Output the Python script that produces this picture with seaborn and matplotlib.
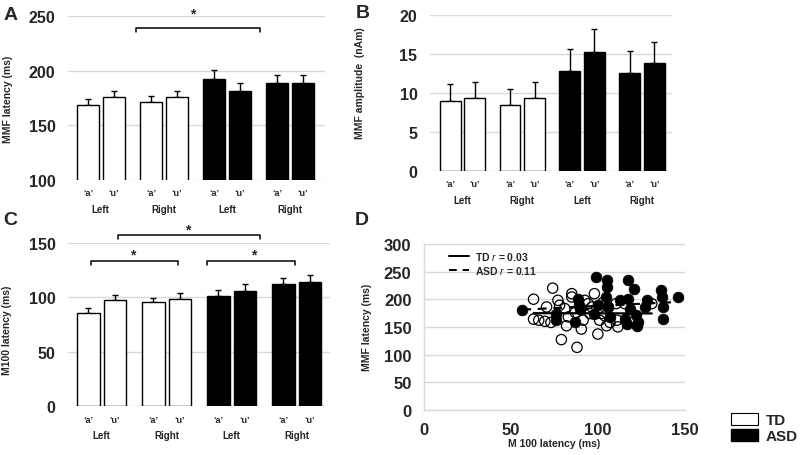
import numpy as np
import pandas as pd
import matplotlib
matplotlib.use("Agg")
import matplotlib.pyplot as plt
from matplotlib.lines import Line2D
from matplotlib.patches import Patch
import seaborn as sns

# bar order: TD-Left a,u / TD-Right a,u / ASD-Left a,u / ASD-Right a,u
conds = ["TD Left", "TD Right", "ASD Left", "ASD Right"]
sides = ["Left", "Right", "Left", "Right"]
vowels = ["‘a’", "‘u’"]

# A: MMF latency (ms)
mmf_lat = [168.6, 176.2, 171.6, 175.6, 192.4, 181.7, 188.4, 188.4]
mmf_lat_err = [5.5, 5.5, 5.3, 6.0, 8.0, 6.7, 7.6, 7.6]

# B: MMF amplitude (nAm)
mmf_amp = [9.0, 9.35, 8.4, 9.35, 12.8, 15.3, 12.6, 13.8]
mmf_amp_err = [2.15, 2.1, 2.1, 2.1, 2.85, 2.85, 2.8, 2.7]

# C: M100 latency (ms)
m100_lat = [85.3, 97.2, 95.4, 98.4, 101.2, 105.5, 112.5, 113.8]
m100_lat_err = [4.6, 5.2, 4.2, 5.8, 5.5, 7.0, 5.3, 7.0]

# D: M100 latency vs MMF latency, per subject
td_x = [63, 74, 70.5, 66, 69.5, 73, 77, 78, 81, 83, 85, 85, 82, 92.5, 94.5, 96.5,
        95.5, 90.5, 91.5, 98, 101, 102, 104, 105, 100, 110.5, 111, 111.5, 106, 107,
        131, 115.5, 79, 88, 103, 87, 63]
td_y = [200, 220, 186, 162, 160, 158, 198, 189, 183, 168, 204, 210, 152, 198, 192,
        186, 174, 146, 162, 210, 162, 174, 170, 152, 137, 192, 162, 150, 186, 158,
        192, 192, 127, 113, 194, 176, 164]
asd_x = [56.5, 76, 76, 87, 88.5, 89, 89.5, 99, 100, 98, 105, 105.5, 104.5, 106, 107,
         112.5, 117.5, 120.5, 117.5, 118.5, 115.5, 116.5, 122, 123, 122.5, 128, 127,
         136.5, 137, 137.5, 137.5, 146]
asd_y = [180, 174, 162, 158, 201, 189, 183, 241, 189, 174, 234, 222, 204, 186, 168,
         198, 234, 219, 201, 183, 165, 156, 171, 158, 152, 198, 186, 217, 204, 186,
         165, 204]

sns.set_style("whitegrid")
plt.rcParams["font.family"] = ["Liberation Sans", "DejaVu Sans"]
plt.rcParams["font.weight"] = "bold"
plt.rcParams["mathtext.fontset"] = "custom"
plt.rcParams["mathtext.rm"] = "Liberation Sans:regular"
plt.rcParams["mathtext.it"] = "Liberation Sans:italic:regular"
plt.rcParams["mathtext.bf"] = "Liberation Sans:bold"

GRID = "#d9d9d9"


def bar_panel(ax, vals, errs, ylim, yticks, ylabel, xlim, label_y=0.5, label_x=-0.21):
    df = pd.DataFrame({
        "cond": np.repeat(conds, 2),
        "vowel": vowels * 4,
        "val": vals,
    })
    sns.barplot(data=df, x="cond", y="val", hue="vowel", ax=ax, width=0.82, gap=0.15,
                palette=["white", "white"], edgecolor="black", linewidth=1,
                errorbar=None, legend=False, zorder=3)
    bars = sorted(ax.patches, key=lambda p: p.get_x())
    centers = [p.get_x() + p.get_width() / 2 for p in bars]
    for i, p in enumerate(bars):
        if i >= 4:
            p.set_facecolor("black")
    ax.errorbar(centers, vals, yerr=[np.zeros(len(errs)), errs], fmt="none",
                ecolor="black", elinewidth=1, capsize=2.5, capthick=1, zorder=2)
    ax.set_xlim(*xlim)
    ax.set_ylim(*ylim)
    ax.set_yticks(yticks)
    ax.tick_params(axis="y", labelsize=11.5, pad=9, length=0)
    ax.set_xticks(centers, labels=vowels * 4)
    ax.tick_params(axis="x", labelsize=6.5, pad=6, length=0)
    for i, s in enumerate(sides):
        ax.annotate(s, xy=(i, 0), xycoords=("data", "axes fraction"),
                    xytext=(0, -21), textcoords="offset points",
                    ha="center", va="center", fontsize=7, fontweight="bold")
    ax.grid(axis="y", color=GRID, lw=1)
    ax.grid(axis="x", visible=False)
    for sp in ax.spines.values():
        sp.set_visible(False)
    ax.set_xlabel("")
    ax.set_ylabel(ylabel, fontsize=7.5, fontweight="bold")
    ax.yaxis.set_label_coords(label_x, label_y)


def bracket(ax, x0, x1, y, drop, star_x, star_y):
    ax.plot([x0, x0, x1, x1], [y - drop, y, y, y - drop], color="black", lw=1.1,
            clip_on=False, zorder=5)
    ax.text(star_x, star_y, "*", ha="center", va="center", fontsize=10,
            fontweight="bold", clip_on=False)


fig = plt.figure(figsize=(8, 4.56), dpi=100)

# panel A
ax_a = fig.add_axes([0.085, 0.603, 0.321, 0.36])
bar_panel(ax_a, mmf_lat, mmf_lat_err, (100, 250), [100, 150, 200, 250],
          "MMF latency (ms)", (-0.52, 3.55), label_x=-0.214)
bracket(ax_a, 0.56, 2.52, 239, 4, 1.46, 252)

# panel B
ax_b = fig.add_axes([0.5375, 0.623, 0.3025, 0.342])
bar_panel(ax_b, mmf_amp, mmf_amp_err, (0, 20), [0, 5, 10, 15, 20],
          "MMF amplitude  (nAm)", (-0.54, 3.5), label_y=0.57, label_x=-0.269)

# panel C
ax_c = fig.add_axes([0.085, 0.107, 0.328, 0.358])
bar_panel(ax_c, m100_lat, m100_lat_err, (0, 150), [0, 50, 100, 150],
          "M100 latency (ms)", (-0.52, 3.52), label_y=0.47, label_x=-0.213)
bracket(ax_c, 0.25, 2.43, 157, 3.5, 1.32, 162)
bracket(ax_c, -0.17, 1.17, 133.4, 3.5, 0.48, 139)
bracket(ax_c, 1.62, 2.97, 133.4, 3.5, 2.34, 139)

# panel D
ax_d = fig.add_axes([0.53, 0.099, 0.326, 0.364])
sns.scatterplot(x=td_x, y=td_y, ax=ax_d, marker="o", s=55, facecolors="none",
                edgecolor="black", linewidth=0.9, zorder=3)
sns.scatterplot(x=asd_x, y=asd_y, ax=ax_d, marker="o", s=60, color="black",
                edgecolor="black", linewidth=0.5, zorder=4)
sns.regplot(x=td_x, y=td_y, ax=ax_d, scatter=False, ci=None, color="black",
            line_kws=dict(lw=1.6, ls="-", zorder=5))
sns.regplot(x=asd_x, y=asd_y, ax=ax_d, scatter=False, ci=None, color="black",
            line_kws=dict(lw=1.6, ls=(0, (4, 3)), zorder=5))
ax_d.set_xlim(0, 150)
ax_d.set_ylim(0, 300)
ax_d.set_xticks([0, 50, 100, 150])
ax_d.set_yticks([0, 50, 100, 150, 200, 250, 300])
ax_d.tick_params(axis="both", labelsize=12, length=0)
ax_d.tick_params(axis="y", pad=9)
ax_d.tick_params(axis="x", pad=9)
ax_d.grid(axis="y", color=GRID, lw=1)
ax_d.grid(axis="x", visible=False)
for side in ["top", "right"]:
    ax_d.spines[side].set_visible(False)
for side in ["left", "bottom"]:
    ax_d.spines[side].set_color(GRID)
    ax_d.spines[side].set_linewidth(1)
ax_d.set_xlabel("M 100 latency (ms)", fontsize=7.5, fontweight="bold")
ax_d.xaxis.set_label_coords(0.5, -0.17)
ax_d.set_ylabel("MMF latency (ms)", fontsize=7.5, fontweight="bold")
ax_d.yaxis.set_label_coords(-0.2, 0.5)
d_handles = [Line2D([], [], color="black", lw=1.4, ls="-"),
             Line2D([], [], color="black", lw=1.4, ls=(0, (4, 3)))]
d_labels = [r"$\mathbf{TD}$ $\mathit{r}$ = 0.03", r"$\mathbf{ASD}$ $\mathit{r}$ = 0.11"]
ax_d.legend(d_handles, d_labels, loc="upper left", bbox_to_anchor=(0.07, 1.0),
            frameon=False, fontsize=7.5, handlelength=2.0, handletextpad=0.5,
            labelspacing=0.15, borderaxespad=0.2)

# group legend
fig.legend([Patch(facecolor="white", edgecolor="black", lw=0.8),
            Patch(facecolor="black", edgecolor="black")],
           ["TD", "ASD"], loc="upper left", bbox_to_anchor=(0.914, 0.093),
           frameon=False, prop=dict(size=11, weight="bold"), borderpad=0,
           borderaxespad=0, handlelength=1.75, handleheight=0.9,
           handletextpad=0.5, labelspacing=0.1)

# panel letters
for txt, x, y in [("A", 0.004, 0.985), ("B", 0.445, 0.99), ("C", 0.004, 0.535),
                  ("D", 0.443, 0.535)]:
    fig.text(x, y, txt, fontsize=14, fontweight="bold", va="top")

fig.savefig("out.png", dpi=100)
